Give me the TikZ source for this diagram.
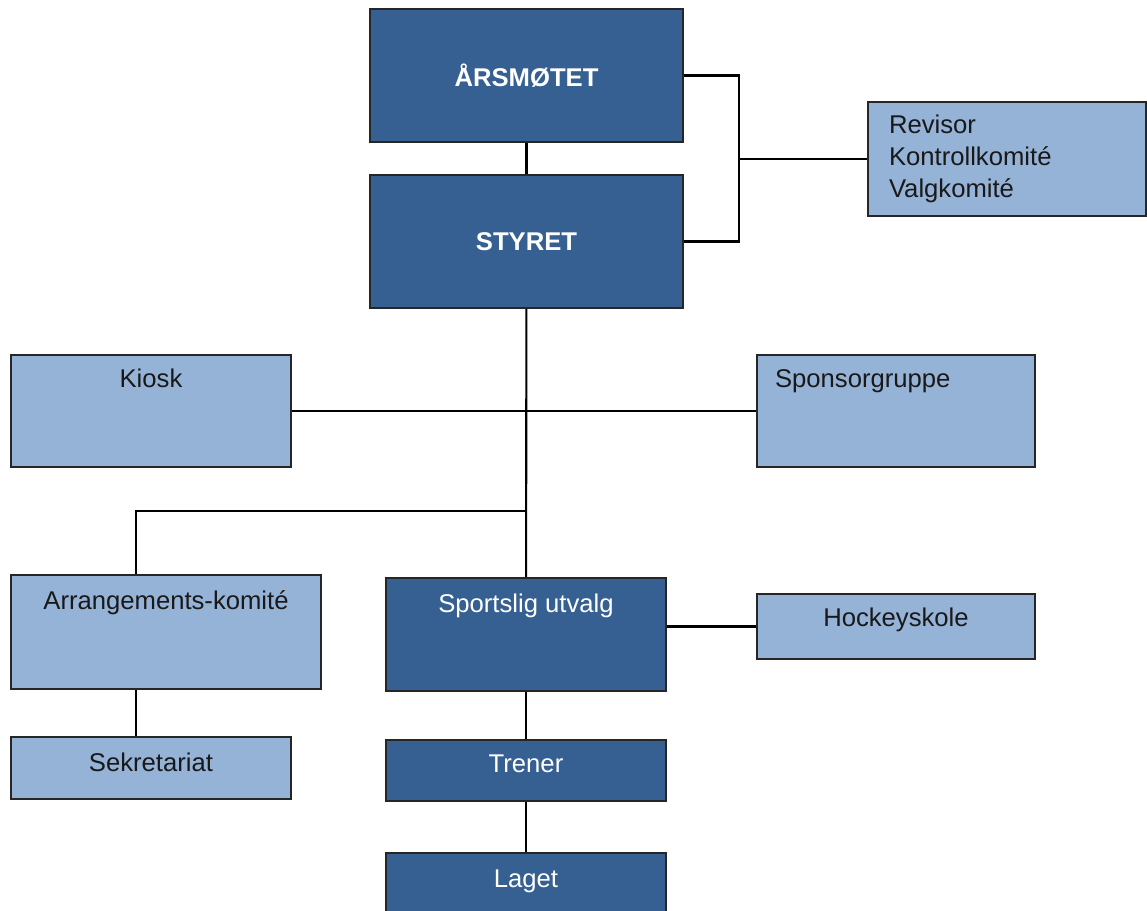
\documentclass[tikz,border=0pt]{standalone}
\usepackage{fontspec}
\setmainfont{Liberation Sans}
\definecolor{darkblue}{HTML}{366092}
\definecolor{lightblue}{HTML}{95B3D7}

\begin{document}
\begin{tikzpicture}[x=0.02cm,y=-0.02cm,line width=1.2pt,
  box/.style={rectangle,draw=black!85,inner sep=0pt,font=\fontsize{14.6}{18.1}\selectfont},
  dark node/.style={box,fill=darkblue,text=white},
  light node/.style={box,fill=lightblue,text=black!90}]
  \useasboundingbox (0,0) rectangle (1147,911);

  \node[dark node,minimum width=6.26cm,minimum height=2.66cm,font=\fontsize{14.6}{18.1}\selectfont\bfseries] (arsmotet) at (526.5,75.5) {ÅRSMØTET};
  \node[dark node,minimum width=6.26cm,minimum height=2.66cm,font=\fontsize{14.6}{18.1}\selectfont\bfseries] (styret) at (526.5,241.5) {STYRET};
  \node[light node,text width=4.72cm,inner xsep=0.42cm,minimum height=2.28cm,align=left] (revisor) at (1007,159) {Revisor\\Kontrollkomité\\Valgkomité};

  \node[light node,minimum width=5.6cm,text height=0.66cm,text depth=1.58cm] (kiosk) at (151,411) {Kiosk};
  \node[light node,text width=4.84cm,inner xsep=0.36cm,align=left,text height=0.66cm,text depth=1.58cm] (sponsor) at (896,411) {Sponsorgruppe};

  \node[light node,minimum width=6.2cm,text height=0.70cm,text depth=1.58cm] (arrang) at (166,632) {Arrangements-komité};
  \node[dark node,minimum width=5.6cm,text height=0.70cm,text depth=1.56cm] (sportslig) at (526,634.5) {Sportslig utvalg};
  \node[light node,minimum width=5.56cm,text height=0.66cm,text depth=0.64cm] (hockey) at (896,626.5) {Hockeyskole};

  \node[light node,minimum width=5.6cm,text height=0.70cm,text depth=0.54cm] (sekretariat) at (151,768) {Sekretariat};
  \node[dark node,minimum width=5.6cm,text height=0.66cm,text depth=0.56cm] (trener) at (526,770.5) {Trener};
  \node[dark node,minimum width=5.6cm,text height=0.70cm,text depth=0.52cm] (laget) at (526,883.5) {Laget};

  \coordinate (brace) at (739,159);
  \coordinate (split) at (526,511);
  \coordinate (arrline) at (136,511);

  \path (arsmotet) edge (styret)
        (kiosk) edge (sponsor)
        (styret) edge (sportslig)
        (sportslig) edge (trener)
        (trener) edge (laget);

  \draw (arsmotet.east) -| (brace) |- (styret.east);
  \draw (brace) -- (revisor);
  \draw (split) -- (arrline) -- (arrline |- arrang.north);
  \draw (arrline |- arrang.south) -- (arrline |- sekretariat.north);
  \draw (sportslig.east |- hockey) -- (hockey);

\end{tikzpicture}
\end{document}
